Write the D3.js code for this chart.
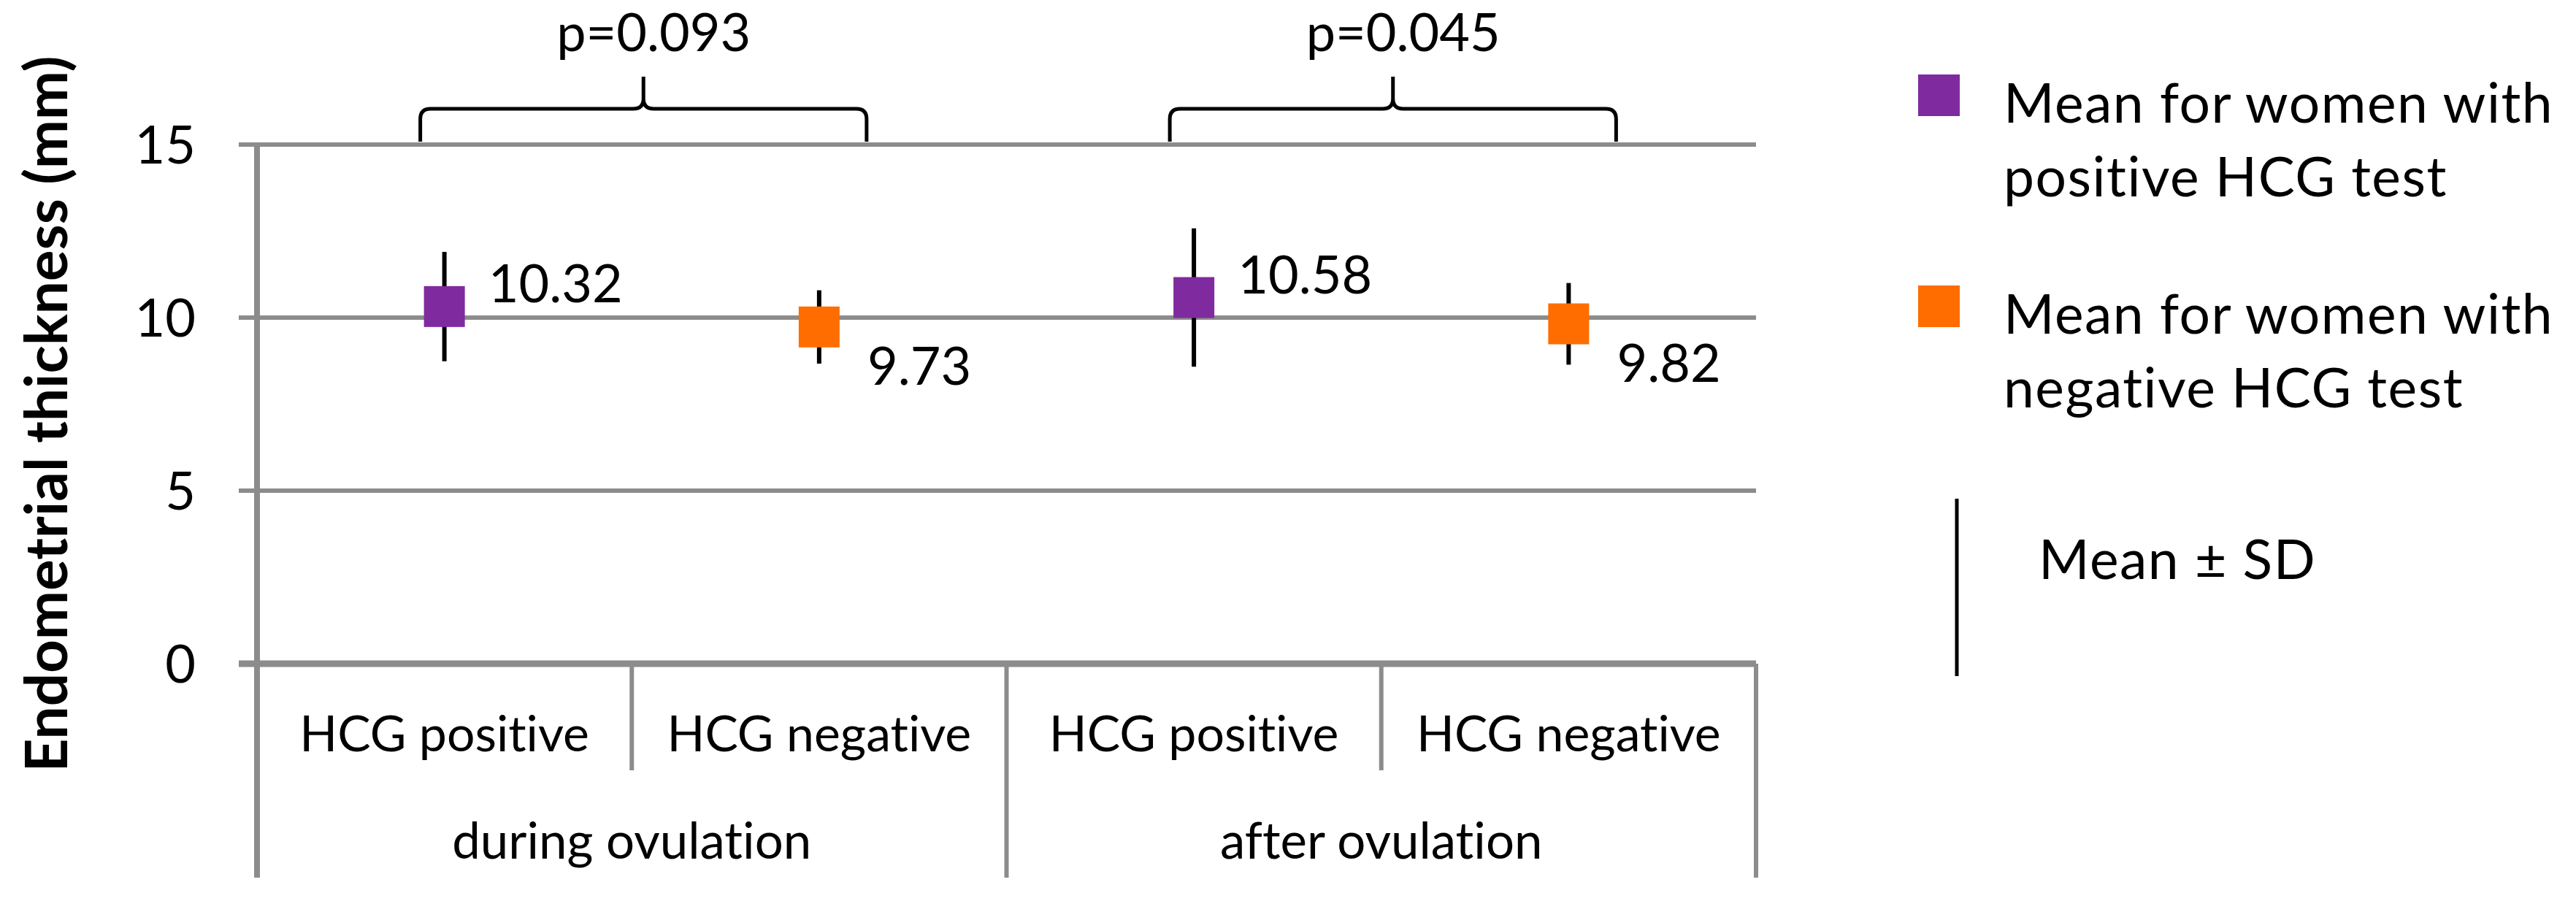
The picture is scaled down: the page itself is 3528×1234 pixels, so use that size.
<!DOCTYPE html>
<html>
<head>
<meta charset="utf-8">
<script src="https://cdn.jsdelivr.net/npm/d3@7"></script>
<style>
  html, body { margin: 0; padding: 0; background: #fff; }
  svg { display: block; }
  text { font-family: Lato, "Open Sans", sans-serif; fill: #000; font-variant-ligatures: none; }
</style>
</head>
<body>
<svg id="chart" width="3528" height="1234"></svg>
<script>
// values
var categories = ["HCG positive", "HCG negative", "HCG positive", "HCG negative"]
var groups = ["during ovulation", "after ovulation"]
var series = ["positive", "negative", "positive", "negative"]
var means = [10.32, 9.73, 10.58, 9.82]
var sds = [1.58, 1.06, 2.0, 1.18]
var yTicks = [0, 5, 10, 15]
var pLabels = ["p=0.093", "p=0.045"]
var legendLabels = [["Mean for women with", "positive HCG test"], ["Mean for women with", "negative HCG test"]]
var sdLabel = "Mean \u00b1 SD"
var yTitle = "Endometrial thickness (mm)"

var colors = {positive: "#7f2b9f", negative: "#ff6d00"}
var gridColor = "#8c8c8c"

var svg = d3.select("svg#chart")
var plotLeft = 352, plotRight = 2405, plotTop = 198, plotBottom = 909, axisBottom = 1202

var x = d3.scaleBand().domain(d3.range(categories.length)).range([plotLeft, plotRight])
var y = d3.scaleLinear().domain([0, 15]).range([plotBottom, plotTop])

// gridlines and tick stubs
svg.append("g")
  .selectAll("line")
  .data(yTicks)
  .enter()
  .append("line")
  .attr("x1", plotLeft - 25)
  .attr("x2", plotRight)
  .attr("y1", function(d){ return y(d) })
  .attr("y2", function(d){ return y(d) })
  .style("stroke", gridColor)
  .style("stroke-width", function(d){ return d === 0 ? 9 : 6 })

// y axis: line, labels
var yAxis = d3.axisLeft(y).tickValues(yTicks).tickSize(0).tickPadding(84)
var gy = svg.append("g").attr("transform", "translate(" + plotLeft + ",0)").call(yAxis)
gy.select(".domain").remove()
gy.selectAll("text")
  .style("font-size", "72px")
  .style("font-family", "Lato, sans-serif")
  .attr("dy", "0.36em")

svg.append("line")
  .attr("x1", plotLeft).attr("x2", plotLeft)
  .attr("y1", plotTop).attr("y2", axisBottom)
  .style("stroke", gridColor).style("stroke-width", 8)

// category separators (short) and group separators (long)
var bounds = d3.range(categories.length + 1).map(function(i){
  return i < categories.length ? x(i) : x(categories.length - 1) + x.bandwidth()
})
svg.append("g")
  .selectAll("line")
  .data(bounds)
  .enter()
  .append("line")
  .attr("x1", function(d){ return d })
  .attr("x2", function(d){ return d })
  .attr("y1", plotBottom)
  .attr("y2", function(d, i){ return i % 2 === 0 ? axisBottom : 1055 })
  .style("stroke", gridColor)
  .style("stroke-width", function(d, i){ return i === 0 ? 8 : 6 })

svg.append("g")
  .selectAll("text")
  .data(categories)
  .enter()
  .append("text")
  .attr("x", function(d, i){ return x(i) + x.bandwidth() / 2 })
  .attr("y", 1029)
  .attr("text-anchor", "middle")
  .style("font-size", "68px")
  .text(function(d){ return d })

svg.append("g")
  .selectAll("text")
  .data(groups)
  .enter()
  .append("text")
  .attr("x", function(d, i){ return x(i * 2) + x.bandwidth() })
  .attr("y", 1176)
  .attr("text-anchor", "middle")
  .style("font-size", "69px")
  .text(function(d){ return d })

// y title
svg.append("text")
  .attr("transform", "translate(92," + 567 + ") rotate(-90)")
  .attr("text-anchor", "middle")
  .style("font-size", "80px")
  .style("font-weight", "bold")
  .text(yTitle)

// error bars
var cx = function(i){ return x(i) + x.bandwidth() / 2 }
svg.append("g")
  .selectAll("line")
  .data(means)
  .enter()
  .append("line")
  .attr("x1", function(d, i){ return cx(i) })
  .attr("x2", function(d, i){ return cx(i) })
  .attr("y1", function(d, i){ return y(d + sds[i]) })
  .attr("y2", function(d, i){ return y(d - sds[i]) })
  .style("stroke", "#000")
  .style("stroke-width", 6)

// markers
var m = 56
svg.append("g")
  .selectAll("rect")
  .data(means)
  .enter()
  .append("rect")
  .attr("x", function(d, i){ return cx(i) - m / 2 })
  .attr("y", function(d){ return y(d) - m / 2 })
  .attr("width", m)
  .attr("height", m)
  .style("fill", function(d, i){ return colors[series[i]] })

// value labels: positive right/above, negative right/below
svg.append("g")
  .selectAll("text")
  .data(means)
  .enter()
  .append("text")
  .attr("x", function(d, i){ return cx(i) + (series[i] === "positive" ? 60 : 66) })
  .attr("y", function(d, i){ return y(d) + (series[i] === "positive" ? -6 : 79) })
  .style("font-size", "72px")
  .text(function(d){ return d.toFixed(2) })

// significance braces over each pair
function brace(x0, x1, yb, yh, yp){
  var xm = (x0 + x1) / 2, r = 14
  return "M" + x0 + "," + yb +
    " L" + x0 + "," + (yh + r) +
    " Q" + x0 + "," + yh + " " + (x0 + r) + "," + yh +
    " L" + (xm - r) + "," + yh +
    " Q" + xm + "," + yh + " " + xm + "," + (yh - r) +
    " L" + xm + "," + yp +
    " M" + xm + "," + (yh - r) +
    " Q" + xm + "," + yh + " " + (xm + r) + "," + yh +
    " L" + (x1 - r) + "," + yh +
    " Q" + x1 + "," + yh + " " + x1 + "," + (yh + r) +
    " L" + x1 + "," + yb
}
var bg = svg.append("g")
bg.selectAll("path")
  .data(pLabels)
  .enter()
  .append("path")
  .attr("d", function(d, i){
    return brace(cx(i * 2) - 33, cx(i * 2 + 1) + 65, y(15) - 4, y(15) - 49, y(15) - 93)
  })
  .style("fill", "none")
  .style("stroke", "#000")
  .style("stroke-width", 5)
bg.selectAll("text")
  .data(pLabels)
  .enter()
  .append("text")
  .attr("x", function(d, i){ return (cx(i * 2) + cx(i * 2 + 1)) / 2 + 30 })
  .attr("y", 70)
  .attr("text-anchor", "middle")
  .style("font-size", "72px")
  .text(function(d){ return d })

// legend
var lg = svg.append("g")
var legendY = [102, 391]
lg.selectAll("rect")
  .data(legendLabels)
  .enter()
  .append("rect")
  .attr("x", 2627)
  .attr("y", function(d, i){ return legendY[i] })
  .attr("width", 57)
  .attr("height", 57)
  .style("fill", function(d, i){ return colors[i === 0 ? "positive" : "negative"] })
lg.selectAll("text")
  .data(legendLabels)
  .enter()
  .append("text")
  .attr("x", 2744)
  .attr("y", function(d, i){ return legendY[i] + 66 })
  .style("font-size", "75px")
  .style("letter-spacing", "1.5px")
  .each(function(d){
    d3.select(this).selectAll("tspan")
      .data(d)
      .enter()
      .append("tspan")
      .attr("x", 2744)
      .attr("dy", function(t, j){ return j === 0 ? 0 : 101 })
      .text(function(t){ return t })
  })
lg.append("line")
  .attr("x1", 2680).attr("x2", 2680)
  .attr("y1", 683).attr("y2", 926)
  .style("stroke", "#000").style("stroke-width", 5)
lg.append("text")
  .attr("x", 2792).attr("y", 793)
  .style("font-size", "75px")
  .style("letter-spacing", "1.5px")
  .text(sdLabel)
</script>
</body>
</html>
